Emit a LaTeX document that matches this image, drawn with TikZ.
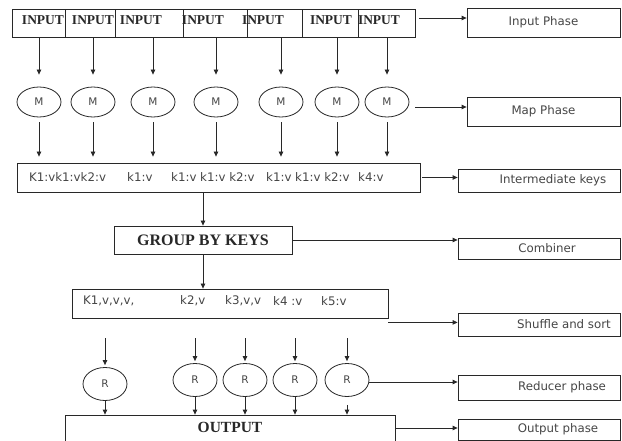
\documentclass[tikz,border=0pt]{standalone}
\usepackage{fontspec}
\setmainfont{Liberation Serif}
\setsansfont{DejaVu Sans}
\usetikzlibrary{positioning}
\usetikzlibrary{calc}
\usetikzlibrary{arrows.meta}
\usetikzlibrary{shapes.geometric}
\definecolor{ink}{RGB}{40,40,40}
\definecolor{soft}{RGB}{70,70,70}

\tikzset{
  box/.style={draw=ink, line width=0.8pt, inner sep=0pt},
  phase/.style={box, minimum width=162pt, minimum height=23pt},
  worker/.style={draw=ink, ellipse, line width=0.8pt, inner sep=0pt, minimum width=44pt,
    text=soft, font=\sffamily\fontsize{10.5}{12}\selectfont},
  sans/.style={text=soft, font=\sffamily\fontsize{11.8}{14}\selectfont},
  keytext/.style={sans, inner sep=0pt, anchor=west},
  boldtext/.style={text=ink, inner sep=0pt, font=\bfseries\fontsize{13.5}{15}\selectfont},
  arr/.style={draw=ink, line width=0.8pt, -{Triangle[length=5pt,width=4.5pt]}}
}

\begin{document}
\begin{tikzpicture}[x=1pt, y=-1pt]
    \fill[white] (0,0) rectangle (622,441);
    \useasboundingbox (0,0) rectangle (622,441);

    % Input splits
    \foreach \a/\b [count=\i] in {12/65, 65/115, 115/183, 183/247, 247/302, 302/358, 358/415} {
        \node[box, minimum width={(\b-\a)*1pt}, minimum height=28pt] (in\i) at ({(\a+\b)/2}, 23) {};
    }
    \foreach \x [count=\i] in {43, 93, 141, 203, 263, 331, 379} {
        \node[boldtext] (t\i) at (\x, 20) {INPUT};
    }

    % Mappers
    \foreach \x [count=\i] in {39, 93, 153, 216, 281, 337, 387} {
        \node[worker, minimum height=30pt] (m\i) at (\x, 102) {M};
    }

    % Intermediate keys
    \node[box, minimum width=403pt, minimum height=29pt] (ikeys) at (218.5, 177.5) {};
    \foreach \x/\t [count=\i] in {29/K1:vk1:vk2:v, 127/k1:v, 171/k1:v k1:v k2:v,
                                  266/k1:v k1:v k2:v, 358/k4:v} {
        \node[keytext] (k\i) at (\x, 177) {\t};
    }

    \foreach \i in {1,...,7} {
        \draw[arr, shorten >=12pt] (m\i |- in1.south) -- (m\i.north);
        \draw[arr, shorten <=5pt, shorten >=6pt] (m\i.south) -- (m\i |- ikeys.north);
    }

    % Group by keys
    \node[box, minimum width=178pt, minimum height=28pt,
          font=\bfseries\fontsize{16}{18}\selectfont, text=ink] (group) at (203, 240) {GROUP BY KEYS};
    \draw[arr] (group |- ikeys.south) -- (group.north);

    % Shuffle and sort
    \node[box, minimum width=316pt, minimum height=29pt] (shuf) at (230, 303.5) {};
    \foreach \x/\t [count=\i] in {83/{K1,v,v,v,}, 180/{k2,v}, 225/{k3,v,v}, 273/k4 :v, 321/k5:v} {
        \node[keytext] (s\i) at (\x, 301) {\t};
    }
    \draw[arr] (group.south) -- (group.south |- shuf.north);

    % Reducers
    \node[worker, minimum height=33pt] (r1) at (105, 384) {R};
    \foreach \x [count=\i from 2] in {195, 245, 295, 347} {
        \node[worker, minimum height=33pt] (r\i) at (\x, 380) {R};
    }

    % Output
    \node[box, minimum width=330pt, minimum height=30pt,
          label={[boldtext, font=\bfseries\fontsize{15.5}{17}\selectfont, yshift=3pt]center:OUTPUT}] (out) at (230, 430) {};

    \foreach \i in {1,...,5} {
        \draw[arr, shorten <=20pt, shorten >=2pt] (r\i |- shuf.south) -- (r\i.north);
    }
    \foreach \i in {1,...,4} {
        \draw[arr] (r\i.south) -- (r\i |- out.north);
    }
    \draw[arr, shorten <=8pt] (r5.south) -- (r5 |- out.north);

    % Phases
    \node[phase, minimum width=153pt, minimum height=29pt,
          label={[sans]center:Input Phase}] (pin) at (543.5, 22.5) {};
    \node[phase, minimum width=153pt, minimum height=29pt,
          label={[sans]center:Map Phase}] (pmap) at (543.5, 111.5) {};
    \node[phase, label={[sans, xshift=14pt]center:Intermediate keys}] (pinter) at (539, 180.5) {};
    \node[phase, minimum height=21pt, label={[sans, xshift=8pt]center:Combiner}] (pcomb) at (539, 248.5) {};
    \node[phase, label={[sans, xshift=25pt]center:Shuffle and sort}] (pshuf) at (539, 324.5) {};
    \node[phase, minimum height=25pt, label={[sans, xshift=23pt]center:Reducer phase}] (pred) at (539, 387.5) {};
    \node[phase, minimum height=21pt, label={[sans, xshift=19pt]center:Output phase}] (pout) at (539, 429.5) {};

    \draw[arr] (in7.east) ++(4,-5) coordinate (c1) -- (c1 -| pin.west);
    \draw[arr] (m7.east) ++(6,5) coordinate (c2) -- (c2 -| pmap.west);
    \draw[arr] (ikeys.east) ++(2,0) coordinate (c3) -- (c3 -| pinter.west);
    \draw[arr] (group.east) -- (group.east -| pcomb.west);
    \draw[arr] (shuf.south east) ++(0,4) coordinate (c4) -- (c4 -| pshuf.west);
    \draw[arr] (r5.east) ++(0,2) coordinate (c5) -- (c5 -| pred.west);
    \draw[arr] (out.east) ++(0,-2) coordinate (c6) -- (c6 -| pout.west);
\end{tikzpicture}
\end{document}
